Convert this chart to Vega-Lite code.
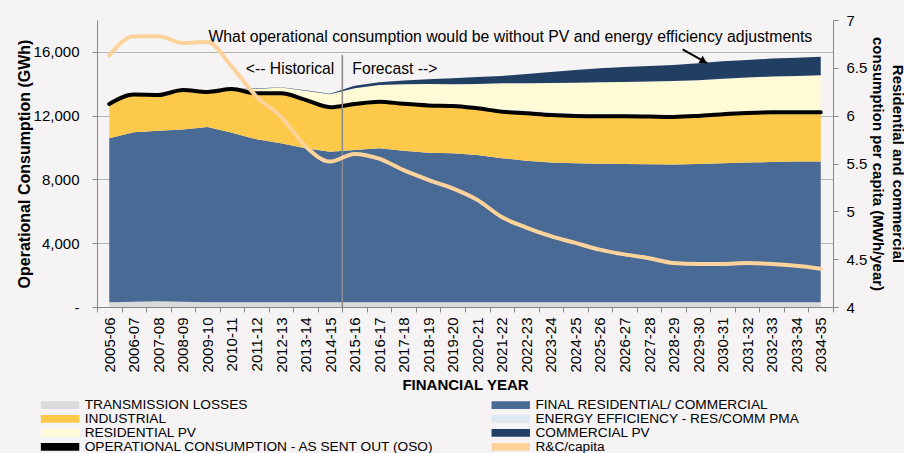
{
  "$schema": "https://vega.github.io/schema/vega-lite/v6.json",
  "width": 736,
  "height": 287,
  "autosize": {"type": "none"},
  "padding": {"left": 97, "top": 20, "right": 71, "bottom": 146},
  "background": "#f5f3f4",
  "config": {
    "view": {"stroke": null},
    "font": "Liberation Sans",
    "axisLeft": {"tickCount": 9, "labelOverlap": false, "labelSeparation": -25, "labelFontSize": 15, "labelColor": "#000", "labelPadding": 13, "tickSize": 5, "tickColor": "#888", "domainColor": "#888", "grid": true, "gridColor": "#404040", "gridOpacity": 0.35, "titleFontSize": 16, "titleFontWeight": "bold", "titleColor": "#000", "titlePadding": 1}
  },
  "datasets": {
    "series": [
      {"k": "tl", "label": "TRANSMISSION LOSSES", "o": 1},
      {"k": "frc", "label": "FINAL RESIDENTIAL/ COMMERCIAL", "o": 2},
      {"k": "ind", "label": "INDUSTRIAL", "o": 3},
      {"k": "ee", "label": "ENERGY EFFICIENCY - RES/COMM PMA", "o": 4},
      {"k": "rpv", "label": "RESIDENTIAL PV", "o": 5},
      {"k": "cpv", "label": "COMMERCIAL PV", "o": 6}
    ],
    "rows": [
      {"fy": "2005-06", "tl": 300, "frc": 10280, "ind": 2150, "ee": 0, "rpv": 0, "cpv": 0, "oso": 12730, "cap": 6.63},
      {"fy": "2006-07", "tl": 330, "frc": 10630, "ind": 2360, "ee": 0, "rpv": 0, "cpv": 0, "oso": 13320, "cap": 6.83},
      {"fy": "2007-08", "tl": 360, "frc": 10700, "ind": 2240, "ee": 0, "rpv": 0, "cpv": 0, "oso": 13300, "cap": 6.83},
      {"fy": "2008-09", "tl": 330, "frc": 10810, "ind": 2470, "ee": 0, "rpv": 0, "cpv": 0, "oso": 13610, "cap": 6.76},
      {"fy": "2009-10", "tl": 300, "frc": 10990, "ind": 2200, "ee": 0, "rpv": 0, "cpv": 0, "oso": 13490, "cap": 6.77},
      {"fy": "2010-11", "tl": 300, "frc": 10630, "ind": 2740, "ee": 0, "rpv": 20, "cpv": 0, "oso": 13670, "cap": 6.51},
      {"fy": "2011-12", "tl": 300, "frc": 10220, "ind": 2880, "ee": 0, "rpv": 280, "cpv": 20, "oso": 13400, "cap": 6.2},
      {"fy": "2012-13", "tl": 300, "frc": 9970, "ind": 3130, "ee": 0, "rpv": 360, "cpv": 30, "oso": 13400, "cap": 5.99},
      {"fy": "2013-14", "tl": 300, "frc": 9650, "ind": 3040, "ee": 0, "rpv": 580, "cpv": 30, "oso": 12990, "cap": 5.68},
      {"fy": "2014-15", "tl": 300, "frc": 9440, "ind": 2790, "ee": 0, "rpv": 810, "cpv": 30, "oso": 12530, "cap": 5.52},
      {"fy": "2015-16", "tl": 300, "frc": 9550, "ind": 2880, "ee": 40, "rpv": 950, "cpv": 150, "oso": 12730, "cap": 5.6},
      {"fy": "2016-17", "tl": 300, "frc": 9650, "ind": 2930, "ee": 60, "rpv": 990, "cpv": 170, "oso": 12880, "cap": 5.55},
      {"fy": "2017-18", "tl": 300, "frc": 9500, "ind": 2940, "ee": 80, "rpv": 1150, "cpv": 230, "oso": 12740, "cap": 5.43},
      {"fy": "2018-19", "tl": 300, "frc": 9380, "ind": 2960, "ee": 100, "rpv": 1250, "cpv": 290, "oso": 12640, "cap": 5.33},
      {"fy": "2019-20", "tl": 300, "frc": 9340, "ind": 2970, "ee": 120, "rpv": 1240, "cpv": 370, "oso": 12610, "cap": 5.24},
      {"fy": "2020-21", "tl": 300, "frc": 9230, "ind": 2930, "ee": 140, "rpv": 1390, "cpv": 440, "oso": 12460, "cap": 5.12},
      {"fy": "2021-22", "tl": 300, "frc": 9030, "ind": 2920, "ee": 160, "rpv": 1620, "cpv": 460, "oso": 12250, "cap": 4.94},
      {"fy": "2022-23", "tl": 300, "frc": 8880, "ind": 2970, "ee": 170, "rpv": 1710, "cpv": 580, "oso": 12150, "cap": 4.83},
      {"fy": "2023-24", "tl": 300, "frc": 8770, "ind": 2970, "ee": 170, "rpv": 1840, "cpv": 690, "oso": 12040, "cap": 4.74},
      {"fy": "2024-25", "tl": 300, "frc": 8710, "ind": 2970, "ee": 160, "rpv": 1930, "cpv": 800, "oso": 11980, "cap": 4.67},
      {"fy": "2025-26", "tl": 300, "frc": 8690, "ind": 2970, "ee": 150, "rpv": 1980, "cpv": 880, "oso": 11960, "cap": 4.6},
      {"fy": "2026-27", "tl": 300, "frc": 8670, "ind": 2990, "ee": 140, "rpv": 2010, "cpv": 940, "oso": 11960, "cap": 4.55},
      {"fy": "2027-28", "tl": 300, "frc": 8650, "ind": 2990, "ee": 130, "rpv": 2080, "cpv": 970, "oso": 11940, "cap": 4.51},
      {"fy": "2028-29", "tl": 300, "frc": 8630, "ind": 2990, "ee": 120, "rpv": 2140, "cpv": 1000, "oso": 11920, "cap": 4.46},
      {"fy": "2029-30", "tl": 300, "frc": 8670, "ind": 3010, "ee": 110, "rpv": 2130, "cpv": 1070, "oso": 11980, "cap": 4.45},
      {"fy": "2030-31", "tl": 300, "frc": 8710, "ind": 3080, "ee": 100, "rpv": 2130, "cpv": 1090, "oso": 12090, "cap": 4.45},
      {"fy": "2031-32", "tl": 300, "frc": 8770, "ind": 3100, "ee": 100, "rpv": 2130, "cpv": 1090, "oso": 12170, "cap": 4.46},
      {"fy": "2032-33", "tl": 300, "frc": 8790, "ind": 3120, "ee": 100, "rpv": 2140, "cpv": 1130, "oso": 12210, "cap": 4.45},
      {"fy": "2033-34", "tl": 300, "frc": 8820, "ind": 3090, "ee": 100, "rpv": 2180, "cpv": 1150, "oso": 12210, "cap": 4.43},
      {"fy": "2034-35", "tl": 300, "frc": 8820, "ind": 3090, "ee": 100, "rpv": 2220, "cpv": 1170, "oso": 12210, "cap": 4.4}
    ]
  },
  "data": {"name": "rows"},
  "layer": [
    {
      "layer": [
        {
          "transform": [
            {"fold": ["tl", "frc", "ind", "ee", "rpv", "cpv"], "as": ["k", "v"]},
            {"lookup": "k", "from": {"data": {"name": "series"}, "key": "k", "fields": ["label", "o"]}}
          ],
          "mark": {"type": "area", "interpolate": "linear", "opacity": 1},
          "encoding": {
            "x": {
              "field": "fy", "type": "ordinal", "bandPosition": 0.5,
              "scale": {"type": "band", "paddingInner": 0, "paddingOuter": 0},
              "axis": {
                "title": "FINANCIAL YEAR", "titleFontSize": 15, "titleFontWeight": "bold", "titleColor": "#000",
                "titlePadding": 5, "labelAngle": -90, "labelFontSize": 15, "labelColor": "#000",
                "labelPadding": 5, "tickSize": 5, "tickColor": "#888", "domainColor": "#888",
                "tickBand": "extent", "labelLimit": 0, "grid": false, "labelOverlap": false
              }
            },
            "y": {
              "field": "v", "type": "quantitative", "stack": "zero",
              "scale": {"domain": [0, 18000], "nice": false},
              "axis": {
                "title": "Operational Consumption (GWh)",
                "values": [0, 2000, 4000, 6000, 8000, 10000, 12000, 14000, 16000, 18000],
                "tickCount": 9,
                "labelExpr": "datum.value === 0 ? '-    ' : format(datum.value, ',')",
                "labelOverlap": false,
                "labelSeparation": -25
              }
            },
            "color": {
              "field": "label", "type": "nominal",
              "scale": {
                "domain": ["TRANSMISSION LOSSES", "INDUSTRIAL", "RESIDENTIAL PV", "OPERATIONAL CONSUMPTION - AS SENT OUT (OSO)", "FINAL RESIDENTIAL/ COMMERCIAL", "ENERGY EFFICIENCY - RES/COMM PMA", "COMMERCIAL PV", "R&C/capita"],
                "range": ["#dadada", "#fcc94b", "#fefbd6", "#000000", "#4a6a96", "#dfe9f3", "#213f63", "#fdd39b"]
              },
              "legend": {
                "orient": "none", "legendX": -57, "legendY": 378, "columns": 2, "columnPadding": 55.7,
                "rowPadding": -4, "title": null, "padding": 0,
                "symbolSize": 144, "symbolType": "M-1,-0.65H5.4V0.65H-1Z", "symbolStrokeWidth": 0,
                "labelFont": "Liberation Sans", "labelFontSize": 13.7, "labelColor": "#000", "labelLimit": 0,
                "labelOffset": 31,
                "encode": {
                  "symbols": {
                    "update": {
                      "fill": {"scale": "color", "field": "value"},
                      "stroke": {"value": "transparent"},
                      "opacity": {"value": 1},
                      "shape": {"signal": "indexof(datum.value, 'OPERATIONAL') === 0 || datum.value === 'R&C/capita' ? 'M-0.6,-0.42H5A0.42,0.42 0 0 1 5,0.42H-0.6A0.42,0.42 0 0 1 -0.6,-0.42Z' : 'M-1,-0.65H5.4V0.65H-1Z'"}
                    }
                  }
                }
              }
            },
            "order": {"field": "o", "type": "quantitative"}
          }
        },
        {
          "mark": {"type": "line", "strokeWidth": 4, "interpolate": "monotone", "strokeCap": "round"},
          "encoding": {
            "x": {"field": "fy", "type": "ordinal", "bandPosition": 0.5},
            "y": {
              "field": "oso", "type": "quantitative",
              "axis": {
                "title": "Operational Consumption (GWh)",
                "values": [0, 2000, 4000, 6000, 8000, 10000, 12000, 14000, 16000, 18000],
                "tickCount": 9,
                "labelExpr": "datum.value === 0 ? '-    ' : format(datum.value, ',')",
                "labelOverlap": false,
                "labelSeparation": -25
              }
            },
            "color": {"datum": "OPERATIONAL CONSUMPTION - AS SENT OUT (OSO)"}
          }
        },
        {
          "data": {"values": [{"fy": "2015-16", "a": 15800, "b": 0}]},
          "mark": {"type": "rule", "color": "#8a8a8a", "strokeWidth": 1.5},
          "encoding": {
            "x": {"field": "fy", "type": "ordinal", "bandPosition": 0},
            "y": {"field": "a", "type": "quantitative"},
            "y2": {"field": "b"}
          }
        },
        {
          "data": {"values": [{"fy": "2015-16", "y": 14910, "t": "<-- Historical"}]},
          "mark": {"type": "text", "align": "right", "baseline": "middle", "dx": -8, "fontSize": 15.7, "color": "#000"},
          "encoding": {
            "x": {"field": "fy", "type": "ordinal", "bandPosition": 0},
            "y": {"field": "y", "type": "quantitative"},
            "text": {"field": "t"}
          }
        },
        {
          "data": {"values": [{"fy": "2015-16", "y": 14910, "t": "Forecast -->"}]},
          "mark": {"type": "text", "align": "left", "baseline": "middle", "dx": 10, "fontSize": 15.7, "color": "#000"},
          "encoding": {
            "x": {"field": "fy", "type": "ordinal", "bandPosition": 0},
            "y": {"field": "y", "type": "quantitative"},
            "text": {"field": "t"}
          }
        },
        {
          "data": {"values": [{"fy": "2009-10", "y": 16940, "t": "What operational consumption would be without PV and energy efficiency adjustments"}]},
          "mark": {"type": "text", "align": "left", "baseline": "middle", "dx": 1, "fontSize": 15.8, "color": "#000"},
          "encoding": {
            "x": {"field": "fy", "type": "ordinal", "bandPosition": 0.5},
            "y": {"field": "y", "type": "quantitative"},
            "text": {"field": "t"}
          }
        },
        {
          "data": {"values": [{"fy": "2028-29", "y": 16165}, {"fy": "2029-30", "y": 15288}]},
          "mark": {"type": "line", "color": "#000", "strokeWidth": 2},
          "encoding": {
            "x": {"field": "fy", "type": "ordinal", "bandPosition": 0.87},
            "y": {"field": "y", "type": "quantitative"}
          }
        },
        {
          "data": {"values": [{"fy": "2029-30", "y": 15414}]},
          "mark": {"type": "point", "shape": "triangle-right", "angle": 30, "filled": true, "color": "#000", "size": 70, "opacity": 1},
          "encoding": {
            "x": {"field": "fy", "type": "ordinal", "bandPosition": 0.73},
            "y": {"field": "y", "type": "quantitative"}
          }
        }
      ]
    },
    {
      "mark": {"type": "line", "strokeWidth": 4, "interpolate": "monotone", "strokeCap": "round"},
      "encoding": {
        "x": {"field": "fy", "type": "ordinal", "bandPosition": 0.5},
        "y": {
          "field": "cap", "type": "quantitative",
          "scale": {"domain": [4, 7], "nice": false},
          "axis": {
            "orient": "right", "values": [4, 4.5, 5, 5.5, 6, 6.5, 7], "format": "~g",
            "labelFontSize": 15, "labelColor": "#000", "labelPadding": 8, "labelOverlap": false,
            "tickSize": 5, "tickColor": "#888", "domainColor": "#888", "grid": false,
            "title": ["Residential and commercial", "consumption per capita (MWh/year)"],
            "titleFontSize": 15, "titleFontWeight": "bold", "titleColor": "#000", "titlePadding": 3,
            "titleLineHeight": 20
          }
        },
        "color": {"datum": "R&C/capita"}
      }
    }
  ],
  "resolve": {"scale": {"y": "independent"}}
}
